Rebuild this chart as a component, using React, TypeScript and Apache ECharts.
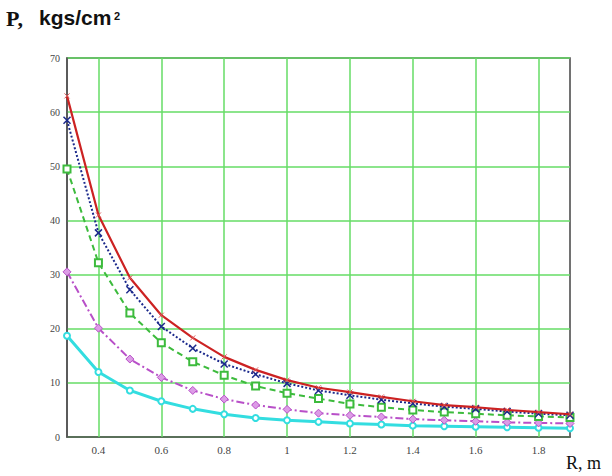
import React, { useEffect, useRef } from "react";
import * as echarts from "echarts";

const radius = [0.3, 0.4, 0.5, 0.6, 0.7, 0.8, 0.9, 1.0, 1.1, 1.2, 1.3, 1.4, 1.5, 1.6, 1.7, 1.8, 1.9];
const redSeries = [63, 41, 29.4, 22.5, 18.3, 14.8, 12.4, 10.5, 9.1, 8.3, 7.4, 6.6, 5.9, 5.5, 5.0, 4.6, 4.2];
const blueSeries = [58.5, 37.7, 27.2, 20.4, 16.4, 13.5, 11.6, 9.9, 8.6, 7.7, 6.9, 6.2, 5.6, 5.2, 4.7, 4.3, 4.0];
const greenSeries = [49.5, 32.2, 22.9, 17.4, 13.9, 11.4, 9.4, 8.1, 7.1, 6.1, 5.5, 5.0, 4.6, 4.3, 4.0, 3.8, 3.6];
const magentaSeries = [30.5, 20.1, 14.4, 11.0, 8.6, 7.0, 5.9, 5.1, 4.4, 4.0, 3.7, 3.3, 3.1, 2.9, 2.7, 2.6, 2.5];
const cyanSeries = [18.7, 12.0, 8.6, 6.6, 5.2, 4.2, 3.5, 3.1, 2.8, 2.5, 2.3, 2.1, 2.0, 1.9, 1.8, 1.7, 1.6];
const xTicks = [0.4, 0.6, 0.8, 1.0, 1.2, 1.4, 1.6, 1.8];
const yTicks = [0, 10, 20, 30, 40, 50, 60, 70];

const pair = (ys: number[]) => radius.map((r, i) => [r, ys[i]]);

const GRID = "#66dd66";
const XPATH = "path://M0,0L10,10M10,0L0,10";

export default function App() {
  const ref = useRef<HTMLDivElement>(null);
  useEffect(() => {
    const chart = echarts.init(ref.current!, null, { renderer: "svg" });
    chart.setOption({
      animation: false,
      backgroundColor: "#ffffff",
      grid: {
        left: 67,
        top: 58,
        right: 42,
        bottom: 39,
        show: true,
        borderColor: "#444",
        borderWidth: 1.5,
        backgroundColor: "transparent",
      },
      xAxis: {
        type: "value",
        min: 0.3,
        max: 1.9,
        axisLine: { show: true, lineStyle: { color: "#555", width: 1.5 } },
        axisTick: { show: false, customValues: xTicks },
        axisLabel: {
          customValues: xTicks,
          formatter: (v: number) => String(Math.round(v * 10) / 10),
          color: "#444",
          fontFamily: "Liberation Serif",
          fontSize: 11,
          margin: 7,
        },
        splitLine: { show: false },
      },
      yAxis: {
        type: "value",
        min: 0,
        max: 70,
        interval: 10,
        axisLine: { show: true, lineStyle: { color: "#555", width: 1.5 } },
        axisTick: { show: false },
        axisLabel: {
          color: "#444",
          fontFamily: "Liberation Serif",
          fontSize: 10,
          margin: 7,
          customValues: yTicks,
        },
        splitLine: { show: true, lineStyle: { color: GRID, width: 1.5 } },
      },
      graphic: [
        {
          type: "text",
          left: 6,
          top: 7,
          style: { text: "P,", fontFamily: "Liberation Serif", fontSize: 22, fontWeight: "bold", fill: "#111" },
        },
        {
          type: "text",
          left: 39,
          top: 7,
          style: { text: "kgs/cm", fontFamily: "Liberation Sans", fontSize: 21, fontWeight: "bold", fill: "#111" },
        },
        {
          type: "text",
          left: 114,
          top: 10,
          style: { text: "2", fontFamily: "Liberation Sans", fontSize: 11, fontWeight: "bold", fill: "#111" },
        },
        {
          type: "text",
          left: 566,
          top: 454,
          style: { text: "R, m", fontFamily: "Liberation Serif", fontSize: 18, fill: "#111" },
        },
      ],
      series: [
        {
          type: "line",
          data: pair(cyanSeries),
          lineStyle: { color: "#33dde0", width: 3 },
          symbol: "emptyCircle",
          symbolSize: 6,
          itemStyle: { color: "#33dde0", borderColor: "#33dde0", borderWidth: 1.5 },
          z: 3,
        },
        {
          type: "line",
          data: pair(magentaSeries),
          lineStyle: { color: "#b84fc8", width: 2, type: [8, 3, 2, 3] },
          symbol: "diamond",
          symbolSize: 8,
          itemStyle: { color: "#dc9ce6", borderColor: "#b84fc8", borderWidth: 1 },
          z: 4,
        },
        {
          type: "line",
          data: pair(greenSeries),
          lineStyle: { color: "#3dbb3d", width: 2, type: [6, 4] },
          symbol: "emptyRect",
          symbolSize: 7,
          itemStyle: { color: "#3dbb3d", borderColor: "#3dbb3d", borderWidth: 1.2 },
          z: 5,
          markLine: {
            silent: true,
            symbol: "none",
            label: { show: false },
            lineStyle: { color: GRID, width: 1.5, type: "solid" },
            z: 1,
            data: xTicks.map((v) => ({ xAxis: v })),
          },
        },
        {
          type: "line",
          data: pair(blueSeries),
          lineStyle: { color: "#1c2a8c", width: 2, type: [2, 2] },
          symbol: XPATH,
          symbolSize: 7,
          itemStyle: { color: "transparent", borderColor: "#1c2a8c", borderWidth: 1.5 },
          z: 6,
        },
        {
          type: "line",
          data: pair(redSeries),
          lineStyle: { color: "#cc2222", width: 2.2 },
          symbol: XPATH,
          symbolSize: 5,
          itemStyle: { color: "transparent", borderColor: "#dd5555", borderWidth: 1 },
          z: 7,
        },
      ],
    });
    return () => chart.dispose();
  }, []);
  return <div ref={ref} style={{ width: 612, height: 476, position: "absolute", left: 0, top: 0 }} />;
}
